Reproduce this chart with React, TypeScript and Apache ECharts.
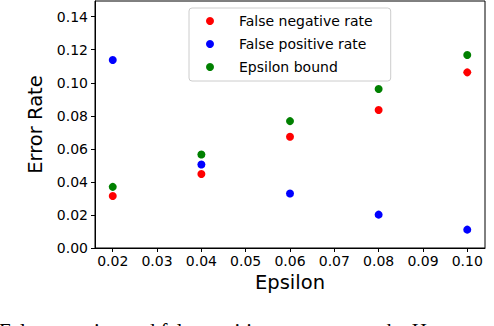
import React, { useEffect, useRef } from "react";
import * as echarts from "echarts";

const epsilons = [0.02, 0.04, 0.06, 0.08, 0.1];
const falseNegativeRate = [0.0315, 0.0448, 0.0673, 0.0835, 0.1063];
const falsePositiveRate = [0.1138, 0.0505, 0.033, 0.0202, 0.0111];
const epsilonBound = [0.037, 0.0566, 0.0768, 0.0962, 0.1168];
const xTicks = [0.02, 0.03, 0.04, 0.05, 0.06, 0.07, 0.08, 0.09, 0.1];
const yTicks = [0, 0.02, 0.04, 0.06, 0.08, 0.1, 0.12, 0.14];
const seriesNames = ["False negative rate", "False positive rate", "Epsilon bound"];
const seriesColors = ["#ff0000", "#0000ff", "#008000"];
const caption = "False negative and false positive rates versus the H";

const FONT = "'DejaVu Sans', sans-serif";

export default function App() {
  const ref = useRef<HTMLDivElement>(null);
  useEffect(() => {
    if (!ref.current) return;
    const chart = echarts.init(ref.current, null, { renderer: "svg" });
    const values = [falseNegativeRate, falsePositiveRate, epsilonBound];
    chart.setOption({
      animation: false,
      backgroundColor: "#ffffff",
      grid: {
        left: 95,
        top: 1,
        width: 390,
        height: 247,
        show: true,
        borderColor: "#000000",
        borderWidth: 1,
        backgroundColor: "transparent",
      },
      legend: {
        orient: "vertical",
        left: 189,
        top: 8,
        padding: [5, 18, 6, 17],
        itemGap: 7,
        itemWidth: 8,
        itemHeight: 8,
        icon: "circle",
        borderColor: "#cccccc",
        borderWidth: 1,
        borderRadius: 3,
        backgroundColor: "rgba(255,255,255,0.8)",
        textStyle: {
          fontFamily: FONT,
          fontSize: 14,
          color: "#000",
          padding: [0, 0, 0, 20],
          lineHeight: 16,
        },
        data: seriesNames,
      },
      xAxis: {
        type: "value",
        min: 0.016,
        max: 0.104,
        name: "Epsilon",
        nameLocation: "middle",
        nameGap: 23,
        nameTextStyle: { fontFamily: FONT, fontSize: 19.5, color: "#000" },
        axisLine: { show: true, lineStyle: { color: "#000", width: 1 } },
        axisTick: {
          show: true,
          inside: false,
          length: 4,
          customValues: xTicks,
          lineStyle: { color: "#000" },
        },
        axisLabel: {
          customValues: xTicks,
          formatter: (v: number) => v.toFixed(2),
          fontFamily: FONT,
          fontSize: 14,
          color: "#000",
          margin: 6,
        },
        splitLine: { show: false },
      },
      yAxis: {
        type: "value",
        min: 0,
        max: 0.1495,
        name: "Error Rate",
        nameLocation: "middle",
        nameGap: 43,
        nameTextStyle: { fontFamily: FONT, fontSize: 19.5, color: "#000" },
        axisLine: { show: true, lineStyle: { color: "#000", width: 1 } },
        axisTick: {
          show: true,
          inside: false,
          length: 4,
          customValues: yTicks,
          lineStyle: { color: "#000" },
        },
        axisLabel: {
          customValues: yTicks,
          formatter: (v: number) => v.toFixed(2),
          fontFamily: FONT,
          fontSize: 14,
          color: "#000",
          margin: 7,
        },
        splitLine: { show: false },
      },
      series: seriesNames.map((name, k) => ({
        name,
        type: "scatter",
        symbol: "circle",
        symbolSize: 8,
        itemStyle: { color: seriesColors[k], opacity: 1 },
        data: epsilons.map((e, i) => [e, values[k][i]]),
      })),
      graphic: [
        {
          type: "text",
          left: -1,
          top: 320,
          silent: true,
          style: {
            text: caption,
            fontFamily: "'Liberation Serif', serif",
            fontSize: 21,
            fill: "#000",
          },
        },
      ],
    });
    return () => chart.dispose();
  }, []);
  return <div ref={ref} style={{ width: 494, height: 326, position: "absolute", left: 0, top: 0 }} />;
}
